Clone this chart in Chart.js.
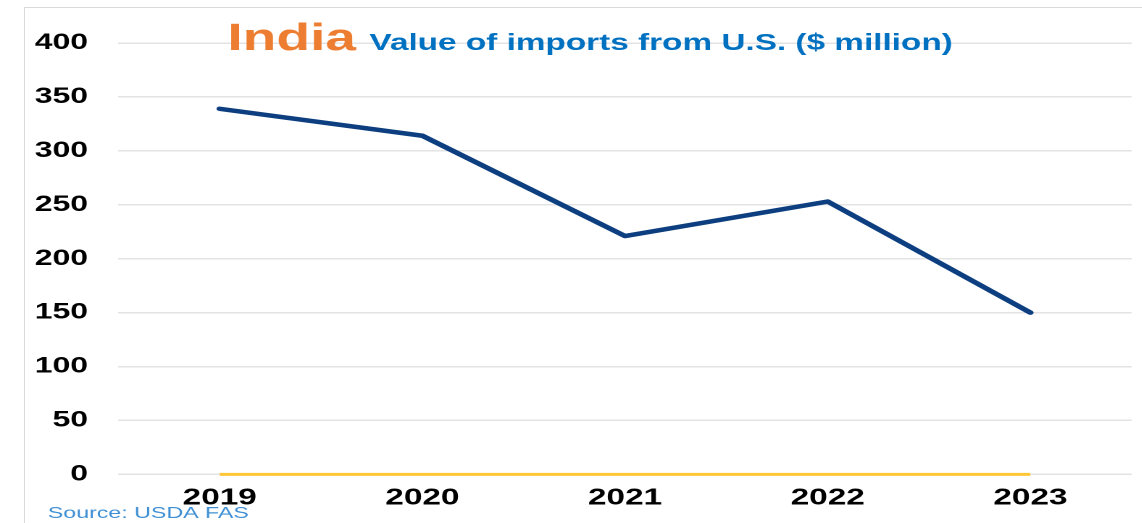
<!DOCTYPE html>
<html>
<head>
<meta charset="utf-8">
<script src="https://cdn.jsdelivr.net/npm/chart.js@4"></script>
<style>
    html, body { margin: 0; padding: 0; background: #fff; overflow: hidden; }
    #frame {
        position: absolute; left: 24px; top: 7px; width: 1200px; height: 600px;
        border-left: 1px solid #dadada; border-top: 1px solid #dadada;
    }
    /* the reference is stretched sideways, so the chart is drawn narrow and widened */
    #wrap {
        position: absolute; left: 0; top: 0; width: 788px; height: 523px;
        transform: scaleX(1.449); transform-origin: 0 0;
    }
</style>
</head>
<body>
<div id="frame"></div>
<div id="wrap"><canvas id="importsChart" width="788" height="523"></canvas></div>
<script>
const years = ['2019', '2020', '2021', '2022', '2023'];
const importValues = [339, 314, 221, 253, 150];
const baselineValues = [0, 0, 0, 0, 0];
const yTicks = { min: 0, max: 400, step: 50 };

const titleMain = 'India';
const titleSub = 'Value of imports from U.S. ($ million)';
const sourceNote = 'Source: USDA FAS';

// Title and source note are painted straight onto the canvas
const textPlugin = {
    id: 'textPlugin',
    afterDraw(chart) {
        const ctx = chart.ctx;
        ctx.save();
        ctx.textBaseline = 'alphabetic';
        ctx.textAlign = 'left';
        ctx.font = 'bold 38px "Liberation Sans", Arial, sans-serif';
        ctx.fillStyle = '#ED7D31';
        ctx.fillText(titleMain, 157, 50);
        ctx.font = 'bold 23px "Liberation Sans", Arial, sans-serif';
        ctx.fillStyle = '#0070C0';
        ctx.fillText(titleSub, 255, 50);
        ctx.font = '16px "Liberation Sans", Arial, sans-serif';
        ctx.fillStyle = '#3F8FD4';
        ctx.fillText(sourceNote, 33, 518);
        ctx.restore();
    }
};

const ctx = document.getElementById('importsChart').getContext('2d');
const importsChart = new Chart(ctx, {
    type: 'line',
    data: {
        labels: years,
        datasets: [{
            label: 'Baseline',
            data: baselineValues,
            borderColor: '#FFC736',
            borderWidth: 3,
            pointRadius: 0,
            tension: 0,
            clip: false,
            order: 2
        }, {
            label: 'Value of imports',
            data: importValues,
            borderColor: '#0D3F80',
            borderWidth: 4.5,
            pointRadius: 0,
            tension: 0,
            borderCapStyle: 'round',
            borderJoinStyle: 'round',
            order: 1
        }]
    },
    options: {
        responsive: false,
        devicePixelRatio: 2,
        animation: false,
        layout: { padding: { left: 3, right: 7, top: 43, bottom: 9 } },
        plugins: {
            legend: { display: false },
            tooltip: { enabled: false }
        },
        scales: {
            x: {
                offset: true,
                grid: { display: false },
                border: { display: false },
                ticks: {
                    color: '#000',
                    padding: 2,
                    font: { family: '"Liberation Sans", Arial, sans-serif', size: 23, weight: 'bold' }
                }
            },
            y: {
                min: yTicks.min,
                max: yTicks.max,
                grid: { color: '#e3e3e3', lineWidth: 1.5, drawTicks: false },
                border: { display: false },
                ticks: {
                    stepSize: yTicks.step,
                    color: '#000',
                    padding: 21,
                    font: { family: '"Liberation Sans", Arial, sans-serif', size: 22, weight: 'bold' }
                }
            }
        }
    },
    plugins: [textPlugin]
});
</script>
</body>
</html>
